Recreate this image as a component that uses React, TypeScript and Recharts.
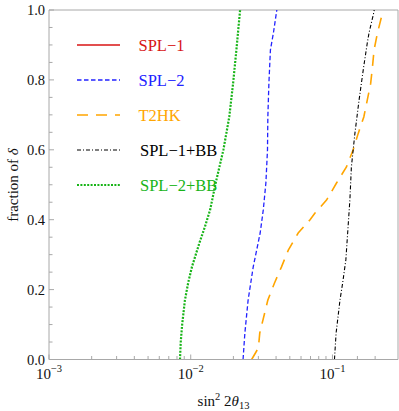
import React from 'react';
import { LineChart, Line, XAxis, YAxis, ReferenceLine, Label } from 'recharts';

const FRAME = '#a8a8a8';
const SERIF = '"Liberation Serif", "DejaVu Serif", serif';

// x = sin^2 2θ13 reached at a given fraction of δ
const spl2Frac = [0, 0.076, 0.17, 0.265, 0.362, 0.428, 0.505, 0.6, 0.694, 0.79, 0.886, 0.934, 1];
const spl2Sin = [0.0234, 0.0241, 0.0254, 0.0276, 0.0309, 0.0325, 0.0339, 0.0348, 0.035, 0.0356, 0.0365, 0.0383, 0.0405];

const t2hkFrac = [0, 0.033, 0.076, 0.17, 0.219, 0.265, 0.313, 0.362, 0.4, 0.419, 0.456, 0.505, 0.551, 0.6, 0.647, 0.694, 0.742, 0.79, 0.837, 0.886, 0.934, 1];
const t2hkSin = [0.0269, 0.03, 0.0307, 0.035, 0.039, 0.0437, 0.0488, 0.0573, 0.0695, 0.0753, 0.0908, 0.1068, 0.1255, 0.14, 0.152, 0.1664, 0.176, 0.186, 0.1915, 0.1966, 0.2077, 0.228];

const spl1bbFrac = [0, 0.076, 0.17, 0.219, 0.285, 0.362, 0.456, 0.551, 0.6, 0.647, 0.742, 0.837, 0.905, 0.934, 0.99, 1];
const spl1bbSin = [0.1033, 0.1061, 0.113, 0.118, 0.1243, 0.128, 0.1327, 0.136, 0.14, 0.144, 0.154, 0.166, 0.176, 0.181, 0.195, 0.197];

const spl2bbFrac = [0, 0.05, 0.1, 0.17, 0.22, 0.265, 0.333, 0.38, 0.428, 0.505, 0.6, 0.694, 0.79, 0.886, 1];
const spl2bbSin = [0.0084, 0.0085, 0.0087, 0.0091, 0.0096, 0.0102, 0.0115, 0.0126, 0.0137, 0.015, 0.017, 0.0187, 0.0199, 0.021, 0.0223];

const xMajor = [0.001, 0.01, 0.1];
const xMinor = [2, 3, 4, 5, 6, 7, 8, 9];
const yMajor = [0, 0.2, 0.4, 0.6, 0.8, 1];

const toPoints = (frac: number[], sin: number[]) => frac.map((f, i) => ({ x: sin[i], y: f }));

const series = [
  { name: 'SPL\u22121', color: '#d81414', dash: undefined, width: 1.3, data: [] as { x: number; y: number }[] },
  { name: 'SPL\u22122', color: '#2222ff', dash: '4.5 2.5', width: 1.3, data: toPoints(spl2Frac, spl2Sin) },
  { name: 'T2HK', color: '#ffa500', dash: '11 8', width: 1.6, data: toPoints(t2hkFrac, t2hkSin) },
  { name: 'SPL\u22121+BB', color: '#000000', dash: '4 2 1 2', width: 1.1, data: toPoints(spl1bbFrac, spl1bbSin) },
  { name: 'SPL\u22122+BB', color: '#18b418', dash: '2 1.4', width: 2.2, data: toPoints(spl2bbFrac, spl2bbSin) },
];

const xTicks: number[] = [];
xMajor.forEach(m => {
  xTicks.push(m);
  if (m < 0.1) xMinor.forEach(k => xTicks.push(+(m * k).toPrecision(3)));
});
xTicks.push(0.15, 0.2);

const yTicks: number[] = [];
for (let i = 0; i <= 20; i++) yTicks.push(+(i * 0.05).toFixed(2));

const XTick = (props: any) => {
  const { x, y, payload } = props;
  const v = payload.value as number;
  const isMajor = xMajor.some(m => Math.abs(m - v) < 1e-9);
  const exp = Math.round(Math.log10(v));
  return (
    <g>
      <line x1={x} x2={x} y1={y} y2={y - (isMajor ? 5 : 3.5)} stroke={FRAME} strokeWidth={1} />
      {isMajor && (
        <text x={x} y={y + 19.5} textAnchor="middle" fontFamily={SERIF} fontSize={15} fill="#111">
          <tspan>10</tspan>
          <tspan dy={-7} fontSize={10.5}>{'\u2212' + Math.abs(exp)}</tspan>
        </text>
      )}
    </g>
  );
};

const YTick = (props: any) => {
  const { x, y, payload } = props;
  const v = payload.value as number;
  const isMajor = yMajor.some(m => Math.abs(m - v) < 1e-9);
  return (
    <g>
      <line x1={x} x2={x + (isMajor ? 5 : 3.5)} y1={y} y2={y} stroke={FRAME} strokeWidth={1} />
      {isMajor && (
        <text x={x - 4} y={y} dy="0.35em" textAnchor="end" fontFamily={SERIF} fontSize={14.5} fill="#111">
          {v.toFixed(1)}
        </text>
      )}
    </g>
  );
};

const XTitle = () => (
  <text x={223.5} y={406} textAnchor="middle" fontFamily={SERIF} fontSize={15} fill="#111">
    <tspan>sin</tspan>
    <tspan dy={-6} fontSize={10.5}>2</tspan>
    <tspan dy={6}> 2</tspan>
    <tspan fontStyle="italic">θ</tspan>
    <tspan dy={3} fontSize={10.5}>13</tspan>
  </text>
);

const YTitle = () => (
  <text x={0} y={0} transform="translate(18,185) rotate(-90)" textAnchor="middle" fontFamily={SERIF} fontSize={15} fill="#111">
    fraction of <tspan fontStyle="italic">δ</tspan>
  </text>
);

export default function App() {
  return (
    <div style={{ position: 'absolute', left: 0, top: 0, width: 399, height: 411, background: '#fff' }}>
      <LineChart width={399} height={411} margin={{ top: 10, right: 1, left: 0, bottom: 0 }}>
        <XAxis
          dataKey="x"
          type="number"
          scale="log"
          domain={[0.001, 0.29]}
          allowDataOverflow
          ticks={xTicks}
          interval={0}
          tick={<XTick />}
          tickLine={false}
          tickSize={0}
          tickMargin={0}
          height={51.5}
          axisLine={{ stroke: FRAME }}
        >
          <Label content={<XTitle />} />
        </XAxis>
        <YAxis
          dataKey="y"
          type="number"
          domain={[0, 1]}
          allowDataOverflow
          ticks={yTicks}
          interval={0}
          tick={<YTick />}
          tickLine={false}
          tickSize={0}
          tickMargin={0}
          width={49}
          axisLine={{ stroke: FRAME }}
        >
          <Label content={<YTitle />} />
        </YAxis>
        <ReferenceLine y={1} stroke={FRAME} />
        <ReferenceLine x={0.29} stroke={FRAME} />
        {series.map(s => (
          <Line
            key={s.name}
            data={s.data}
            dataKey="y"
            type="linear"
            stroke={s.color}
            strokeWidth={s.width}
            strokeDasharray={s.dash}
            dot={false}
            activeDot={false}
            isAnimationActive={false}
          />
        ))}
      </LineChart>
      <svg width={399} height={411} style={{ position: 'absolute', left: 0, top: 0, pointerEvents: 'none' }}>
        {series.map((s, i) => {
          const cy = 45 + i * 35;
          return (
            <g key={s.name}>
              <line x1={77} x2={120} y1={cy} y2={cy} stroke={s.color} strokeWidth={s.width} strokeDasharray={s.dash} />
              <text x={i >= 3 ? 140 : 138.5} y={cy} dy="0.35em" fontFamily={SERIF} fontSize={16.5} fill={s.color}>
                {s.name}
              </text>
            </g>
          );
        })}
      </svg>
    </div>
  );
}
